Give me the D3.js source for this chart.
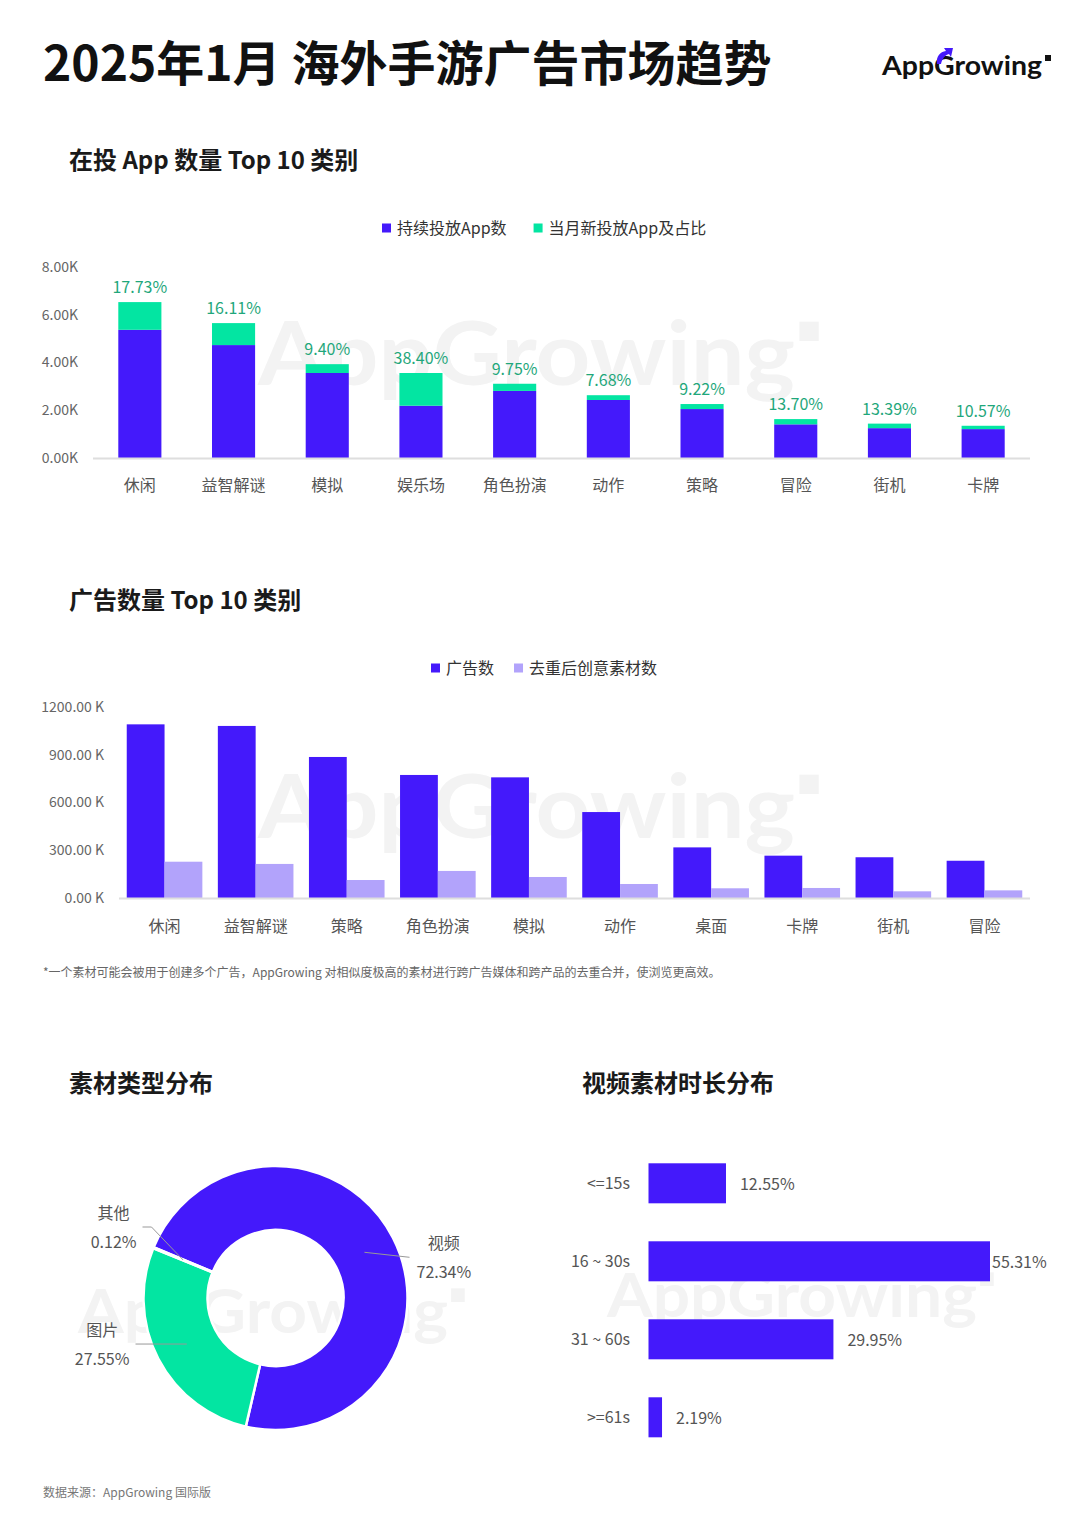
<!DOCTYPE html>
<html>
<head>
<meta charset="utf-8">
<script src="https://cdn.jsdelivr.net/npm/d3@7"></script>
<style>
  html, body { margin: 0; padding: 0; background: #fff; }
  svg { display: block; font-family: "Noto Sans CJK SC", "Noto Sans", sans-serif; }
</style>
</head>
<body>
<svg id="page" width="1080" height="1535"></svg>
<script>
// ---- data ----
const appCategories = ["休闲", "益智解谜", "模拟", "娱乐场", "角色扮演", "动作", "策略", "冒险", "街机", "卡牌"];
const appContinuing = [5.37, 4.73, 3.56, 2.19, 2.81, 2.43, 2.05, 1.41, 1.25, 1.21];   // K
const appNew = [1.16, 0.92, 0.37, 1.37, 0.30, 0.20, 0.21, 0.22, 0.19, 0.14];          // K
const appNewShare = ["17.73%", "16.11%", "9.40%", "38.40%", "9.75%", "7.68%", "9.22%", "13.70%", "13.39%", "10.57%"];
const appTicks = [0, 2, 4, 6, 8];

const adCategories = ["休闲", "益智解谜", "策略", "角色扮演", "模拟", "动作", "桌面", "卡牌", "街机", "冒险"];
const adCounts = [1091, 1081, 886, 773, 758, 540, 318, 266, 256, 234];        // K
const adCreatives = [228, 214, 113, 170, 132, 88, 61, 63, 42, 48];            // K
const adTicks = [0, 300, 600, 900, 1200];

const typeNames = ["视频", "图片", "其他"];
const typeShares = [72.34, 27.55, 0.12];

const durationNames = ["<=15s", "16 ~ 30s", "31 ~ 60s", ">=61s"];
const durationShares = [12.55, 55.31, 29.95, 2.19];

// ---- styles ----
const BLUE = "#4419fb";
const GREEN = "#03e5a2";
const LILAC = "#b2a3fb";
const LABEL_GREEN = "#1fa77b";
const TEXT = "#555";

const svg = d3.select("#page");

function watermark(x, baseline, size, width) {
    const g = svg.append("g").attr("class", "watermark");
    g.append("text")
        .attr("x", x)
        .attr("y", baseline)
        .attr("font-family", "Lato, 'DejaVu Sans', sans-serif")
        .attr("font-weight", "bold")
        .attr("font-size", size)
        .attr("fill", "#f3f3f3")
        .attr("textLength", width)
        .attr("lengthAdjust", "spacingAndGlyphs")
        .text("AppGrowing");
    g.append("rect")
        .attr("x", x + width + size * 0.05)
        .attr("y", baseline - size * 0.72)
        .attr("width", size * 0.22)
        .attr("height", size * 0.22)
        .attr("fill", "#f3f3f3");
}

function sectionTitle(x, y, text) {
    svg.append("text")
        .attr("x", x).attr("y", y)
        .attr("font-size", 24)
        .attr("font-weight", "bold")
        .attr("fill", "#1a1a1a")
        .text(text);
}

function legend(items, x, y, gap) {
    let cx = x;
    items.forEach(function (it) {
        svg.append("rect")
            .attr("x", cx).attr("y", y - 4.5)
            .attr("width", 9).attr("height", 9)
            .attr("fill", it.color);
        const t = svg.append("text")
            .attr("x", cx + 15).attr("y", y + 6)
            .attr("font-size", 16)
            .attr("fill", "#333")
            .text(it.name);
        cx += 15 + t.node().getComputedTextLength() + gap;
    });
}

// ---- header ----
svg.append("text")
    .attr("x", 43).attr("y", 81)
    .attr("font-size", 48)
    .attr("font-weight", "bold")
    .attr("fill", "#111")
    .text("2025年1月 海外手游广告市场趋势");

svg.append("text")
    .attr("x", 882).attr("y", 75)
    .attr("font-family", "Lato, 'DejaVu Sans', sans-serif")
    .attr("font-weight", "bold")
    .attr("font-size", 27)
    .attr("fill", "#111")
    .attr("textLength", 160)
    .attr("lengthAdjust", "spacingAndGlyphs")
    .text("AppGrowing");
svg.append("path")
    .attr("d", "M937,64 C936,56 940,52 946,51 L944,48 L953,48 L951,57 L949,54 C945,55 942,59 941,64 Z")
    .attr("fill", BLUE);
svg.append("rect")
    .attr("x", 1045).attr("y", 55).attr("width", 6).attr("height", 6)
    .attr("fill", "#111");

// ---- chart 1: 在投 App 数量 ----
sectionTitle(69, 169, "在投 App 数量 Top 10 类别");
watermark(258, 385, 88, 537);
legend([{ name: "持续投放App数", color: BLUE }, { name: "当月新投放App及占比", color: GREEN }], 382, 228, 27);

const x1 = d3.scaleBand().domain(appCategories).range([93, 1030]).paddingInner(0.54).paddingOuter(0.27);
const y1 = d3.scaleLinear().domain([0, 8]).range([458, 267]);

svg.append("g")
    .attr("transform", "translate(93,0)")
    .call(d3.axisLeft(y1).tickValues(appTicks).tickSize(0).tickPadding(15)
        .tickFormat(function (d) { return d.toFixed(2) + "K"; }))
    .call(function (g) { g.select(".domain").remove(); })
    .selectAll("text")
    .attr("font-size", 14).attr("fill", "#666").attr("font-family", "'Noto Sans CJK SC', sans-serif");

const appRows = appCategories.map(function (c, i) {
    return { cat: c, cont: appContinuing[i], add: appNew[i], share: appNewShare[i] };
});

svg.append("g").selectAll("rect")
    .data(appRows).join("rect")
    .attr("x", function (d) { return x1(d.cat); })
    .attr("width", x1.bandwidth())
    .attr("y", function (d) { return y1(d.cont); })
    .attr("height", function (d) { return y1(0) - y1(d.cont); })
    .attr("fill", BLUE);

svg.append("g").selectAll("rect")
    .data(appRows).join("rect")
    .attr("x", function (d) { return x1(d.cat); })
    .attr("width", x1.bandwidth())
    .attr("y", function (d) { return y1(d.cont + d.add); })
    .attr("height", function (d) { return y1(d.cont) - y1(d.cont + d.add); })
    .attr("fill", GREEN);

svg.append("g").selectAll("text")
    .data(appRows).join("text")
    .attr("x", function (d) { return x1(d.cat) + x1.bandwidth() / 2; })
    .attr("y", function (d) { return y1(d.cont + d.add) - 9; })
    .attr("text-anchor", "middle")
    .attr("font-size", 16)
    .attr("fill", LABEL_GREEN)
    .text(function (d) { return d.share; });

svg.append("line")
    .attr("x1", 93).attr("x2", 1030).attr("y1", 458.5).attr("y2", 458.5)
    .attr("stroke", "#dedede").attr("stroke-width", 2);

svg.append("g").selectAll("text")
    .data(appCategories).join("text")
    .attr("x", function (d) { return x1(d) + x1.bandwidth() / 2; })
    .attr("y", 491)
    .attr("text-anchor", "middle")
    .attr("font-size", 16)
    .attr("fill", TEXT)
    .text(function (d) { return d; });

// ---- chart 2: 广告数量 ----
sectionTitle(69, 609, "广告数量 Top 10 类别");
watermark(258, 838, 88, 537);
legend([{ name: "广告数", color: BLUE }, { name: "去重后创意素材数", color: LILAC }], 431, 668, 20);

const x2 = d3.scaleBand().domain(adCategories).range([119, 1030]).paddingInner(0.17).paddingOuter(0.085);
const x2inner = d3.scaleBand().domain(["ads", "creatives"]).range([0, x2.bandwidth()]);
const y2 = d3.scaleLinear().domain([0, 1200]).range([898, 707]);

svg.append("g")
    .attr("transform", "translate(119,0)")
    .call(d3.axisLeft(y2).tickValues(adTicks).tickSize(0).tickPadding(15)
        .tickFormat(function (d) { return d.toFixed(2) + " K"; }))
    .call(function (g) { g.select(".domain").remove(); })
    .selectAll("text")
    .attr("font-size", 14).attr("fill", "#666").attr("font-family", "'Noto Sans CJK SC', sans-serif");

const adRows = adCategories.map(function (c, i) {
    return { cat: c, ads: adCounts[i], creatives: adCreatives[i] };
});

const groups = svg.append("g").selectAll("g")
    .data(adRows).join("g")
    .attr("transform", function (d) { return "translate(" + x2(d.cat) + ",0)"; });

groups.append("rect")
    .attr("x", x2inner("ads"))
    .attr("width", x2inner.bandwidth())
    .attr("y", function (d) { return y2(d.ads); })
    .attr("height", function (d) { return y2(0) - y2(d.ads); })
    .attr("fill", BLUE);

groups.append("rect")
    .attr("x", x2inner("creatives"))
    .attr("width", x2inner.bandwidth())
    .attr("y", function (d) { return y2(d.creatives); })
    .attr("height", function (d) { return y2(0) - y2(d.creatives); })
    .attr("fill", LILAC);

svg.append("line")
    .attr("x1", 119).attr("x2", 1030).attr("y1", 898.5).attr("y2", 898.5)
    .attr("stroke", "#dedede").attr("stroke-width", 2);

svg.append("g").selectAll("text")
    .data(adCategories).join("text")
    .attr("x", function (d) { return x2(d) + x2.bandwidth() / 2; })
    .attr("y", 932)
    .attr("text-anchor", "middle")
    .attr("font-size", 16)
    .attr("fill", TEXT)
    .text(function (d) { return d; });

svg.append("text")
    .attr("x", 43).attr("y", 977)
    .attr("font-size", 12)
    .attr("fill", "#666")
    .text("*一个素材可能会被用于创建多个广告，AppGrowing 对相似度极高的素材进行跨广告媒体和跨产品的去重合并，使浏览更高效。");

// ---- chart 3: 素材类型分布 ----
sectionTitle(69, 1092, "素材类型分布");
watermark(78, 1333, 62, 370);

const cx = 275.5, cy = 1298;
const pie = d3.pie().sort(null)
    .startAngle(-67.4 * Math.PI / 180)
    .endAngle(-67.4 * Math.PI / 180 + 2 * Math.PI)
    .value(function (d) { return d.value; });
const slices = pie(typeNames.map(function (n, i) { return { name: n, value: typeShares[i] }; }));
const arc = d3.arc().innerRadius(68).outerRadius(132);
const midArc = d3.arc().innerRadius(100).outerRadius(100);
const typeColors = d3.scaleOrdinal().domain(typeNames).range([BLUE, GREEN, "#f5a623"]);

const donut = svg.append("g").attr("transform", "translate(" + cx + "," + cy + ")");
donut.selectAll("path")
    .data(slices).join("path")
    .attr("d", arc)
    .attr("fill", function (d) { return typeColors(d.data.name); })
    .attr("stroke", "#fff")
    .attr("stroke-width", 2.5);

slices.forEach(function (d) {
    const c = midArc.centroid(d);
    const mid = (d.startAngle + d.endAngle) / 2;
    const right = Math.sin(mid) > 0;
    let pts;
    if (d.data.value < 1) {
        pts = [c, [-124, -71], [-133, -71]];
    } else if (right) {
        pts = [c, [134, c[1] + 5]];
    } else {
        pts = [c, [-140, c[1]]];
    }
    donut.append("polyline")
        .attr("points", pts.map(function (p) { return p.join(","); }).join(" "))
        .attr("fill", "none")
        .attr("stroke", "#999")
        .attr("stroke-width", 1);
    const end = pts[pts.length - 1];
    const valText = d.data.value.toFixed(2) + "%";
    const probe = donut.append("text").attr("font-size", 16).text(valText);
    const w = probe.node().getComputedTextLength();
    probe.remove();
    const tx = right ? end[0] + 7 + w / 2 : end[0] - 6 - w / 2;
    donut.append("text")
        .attr("x", tx).attr("y", end[1] - 8)
        .attr("text-anchor", "middle")
        .attr("font-size", 16)
        .attr("fill", TEXT)
        .text(d.data.name);
    donut.append("text")
        .attr("x", tx).attr("y", end[1] + 21)
        .attr("text-anchor", "middle")
        .attr("font-size", 16)
        .attr("fill", TEXT)
        .text(valText);
});

// ---- chart 4: 视频素材时长分布 ----
sectionTitle(582, 1092, "视频素材时长分布");
watermark(607, 1317, 62, 370);

const y4 = d3.scaleBand().domain(durationNames).range([1144.3, 1456.3]).paddingInner(0.487).paddingOuter(0.2435);
const x4 = d3.scaleLinear().domain([0, d3.max(durationShares)]).range([648.5, 990]);
const durRows = durationNames.map(function (n, i) { return { name: n, value: durationShares[i] }; });

svg.append("g").selectAll("rect")
    .data(durRows).join("rect")
    .attr("x", x4(0))
    .attr("y", function (d) { return y4(d.name); })
    .attr("width", function (d) { return x4(d.value) - x4(0); })
    .attr("height", y4.bandwidth())
    .attr("fill", BLUE);

svg.append("g").selectAll("text")
    .data(durRows).join("text")
    .attr("x", 630)
    .attr("y", function (d) { return y4(d.name) + y4.bandwidth() / 2 + 5.5; })
    .attr("text-anchor", "end")
    .attr("font-size", 16)
    .attr("fill", TEXT)
    .text(function (d) { return d.name; });

svg.append("g").selectAll("text")
    .data(durRows).join("text")
    .attr("x", function (d) { return Math.min(x4(d.value) + 14, 992); })
    .attr("y", function (d) { return y4(d.name) + y4.bandwidth() / 2 + 6.5; })
    .attr("font-size", 16)
    .attr("fill", TEXT)
    .text(function (d) { return d.value.toFixed(2) + "%"; });

// ---- footer ----
svg.append("text")
    .attr("x", 43).attr("y", 1497)
    .attr("font-size", 12)
    .attr("fill", "#777")
    .text("数据来源：AppGrowing 国际版");
</script>
</body>
</html>
